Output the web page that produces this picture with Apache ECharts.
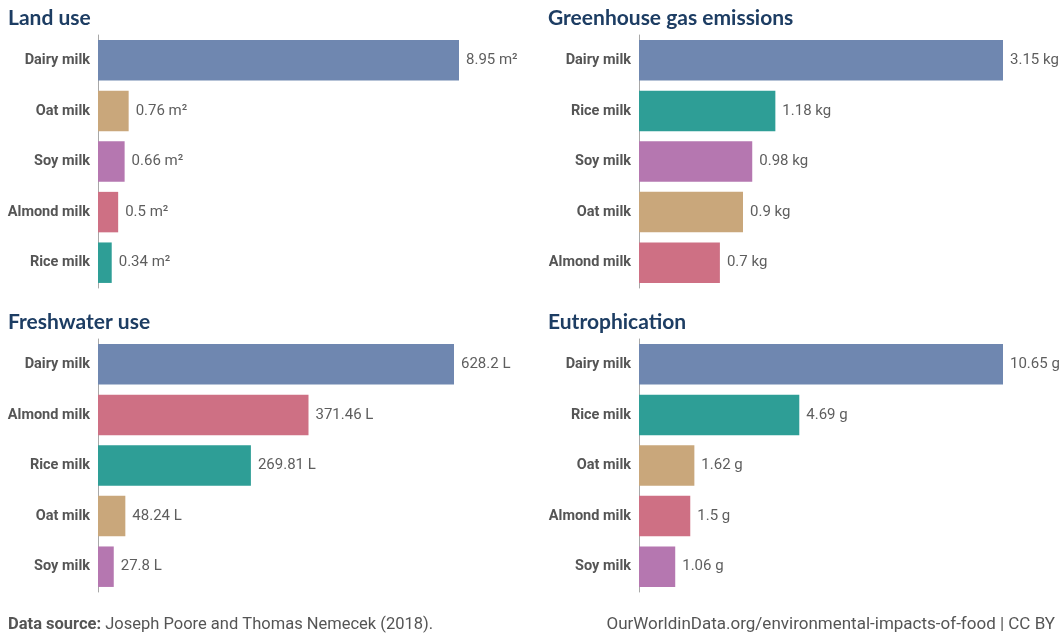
<!DOCTYPE html>
<html>
<head>
<meta charset="utf-8">
<script src="https://cdn.jsdelivr.net/npm/echarts@6/dist/echarts.min.js"></script>
<style>
  html, body { margin: 0; padding: 0; background: #fff; }
  #chart { width: 1062px; height: 636px; }
</style>
</head>
<body>
<div id="chart"></div>
<script>
// Environmental footprint of milks, per litre
const landCategories = ['Dairy milk', 'Oat milk', 'Soy milk', 'Almond milk', 'Rice milk'];
const landValues = [8.95, 0.76, 0.66, 0.5, 0.34];

const ghgCategories = ['Dairy milk', 'Rice milk', 'Soy milk', 'Oat milk', 'Almond milk'];
const ghgValues = [3.15, 1.18, 0.98, 0.9, 0.7];

const waterCategories = ['Dairy milk', 'Almond milk', 'Rice milk', 'Oat milk', 'Soy milk'];
const waterValues = [628.2, 371.46, 269.81, 48.24, 27.8];

const eutroCategories = ['Dairy milk', 'Rice milk', 'Oat milk', 'Almond milk', 'Soy milk'];
const eutroValues = [10.65, 4.69, 1.62, 1.5, 1.06];

const panelTitles = ['Land use', 'Greenhouse gas emissions', 'Freshwater use', 'Eutrophication'];
const panelUnits = [' m²', ' kg', ' L', ' g'];

const milkColors = {
  'Dairy milk': '#6F87B0',
  'Oat milk': '#C9A77B',
  'Soy milk': '#B577B0',
  'Almond milk': '#CE7084',
  'Rice milk': '#2E9E96'
};

const panels = [
  { cats: landCategories, vals: landValues, grid: { left: 98, top: 35, width: 361, height: 253 }, title: { left: 8, top: 8 } },
  { cats: ghgCategories, vals: ghgValues, grid: { left: 639, top: 35, width: 364, height: 253 }, title: { left: 548, top: 8 } },
  { cats: waterCategories, vals: waterValues, grid: { left: 98, top: 339, width: 356, height: 253 }, title: { left: 8, top: 312 } },
  { cats: eutroCategories, vals: eutroValues, grid: { left: 639, top: 339, width: 364, height: 253 }, title: { left: 548, top: 312 } }
];

const FONT = 'Roboto, "Noto Sans", sans-serif';

const option = {
  animation: false,
  backgroundColor: '#ffffff',
  title: panels.map((p, i) => ({
    text: panelTitles[i],
    left: p.title.left,
    top: p.title.top,
    padding: 0,
    textStyle: { fontFamily: 'Lato, Roboto, sans-serif', fontWeight: 'bold', fontSize: 21, color: '#1D3D63' }
  })),
  grid: panels.map(p => Object.assign({ containLabel: false }, p.grid)),
  xAxis: panels.map((p, i) => ({
    type: 'value',
    gridIndex: i,
    min: 0,
    max: Math.max(...p.vals),
    show: false
  })),
  yAxis: panels.map((p, i) => ({
    type: 'category',
    gridIndex: i,
    data: p.cats,
    inverse: true,
    axisLine: { show: true, lineStyle: { color: '#A8A8A8', width: 1 } },
    axisTick: { show: false },
    splitLine: { show: false },
    axisLabel: {
      margin: 8,
      fontFamily: FONT,
      fontWeight: 'bold',
      fontSize: 14.5,
      color: '#555555'
    }
  })),
  series: panels.map((p, i) => ({
    type: 'bar',
    xAxisIndex: i,
    yAxisIndex: i,
    barCategoryGap: '20%',
    data: p.vals.map((v, k) => ({ value: v, itemStyle: { color: milkColors[p.cats[k]] } })),
    label: {
      show: true,
      position: 'right',
      distance: 7,
      fontFamily: FONT,
      fontSize: 15,
      color: '#5E5E5E',
      formatter: d => d.value + panelUnits[i]
    }
  })),
  graphic: [
    {
      type: 'text',
      left: 8,
      top: 616,
      style: {
        rich: {
          b: { fontFamily: FONT, fontWeight: 'bold', fontSize: 16.5, fill: '#555555' },
          n: { fontFamily: FONT, fontSize: 16.5, fill: '#555555' }
        },
        text: '{b|Data source:}{n| Joseph Poore and Thomas Nemecek (2018).}'
      }
    },
    {
      type: 'text',
      right: 7,
      top: 616,
      style: {
        text: 'OurWorldinData.org/environmental-impacts-of-food | CC BY',
        font: '17px ' + FONT,
        fill: '#555555'
      }
    }
  ]
};

const chart = echarts.init(document.getElementById('chart'), null, { renderer: 'canvas' });
chart.setOption(option);
</script>
</body>
</html>
